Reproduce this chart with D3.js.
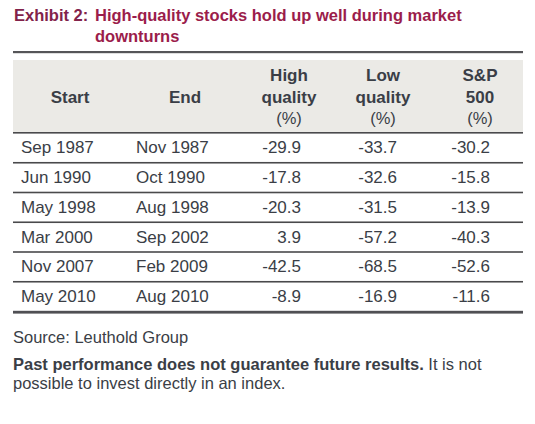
<!DOCTYPE html>
<html><head><meta charset="utf-8">
<script src="https://cdn.jsdelivr.net/npm/d3@7"></script>
<style>
html,body{margin:0;padding:0;background:#fff;}
svg{display:block;}
</style></head>
<body>
<script>
const titleLabel = "Exhibit 2:";
const titleLines = ["High-quality stocks hold up well during market", "downturns"];
const headers = [["Start"], ["End"], ["High", "quality", "(%)"], ["Low", "quality", "(%)"], ["S&P", "500", "(%)"]];
const starts = ["Sep 1987", "Jun 1990", "May 1998", "Mar 2000", "Nov 2007", "May 2010"];
const ends = ["Nov 1987", "Oct 1990", "Aug 1998", "Sep 2002", "Feb 2009", "Aug 2010"];
const highQuality = [-29.9, -17.8, -20.3, 3.9, -42.5, -8.9];
const lowQuality = [-33.7, -32.6, -31.5, -57.2, -68.5, -16.9];
const sp500 = [-30.2, -15.8, -13.9, -40.3, -52.6, -11.6];
const sourceText = "Source: Leuthold Group";
const noteBold = "Past performance does not guarantee future results.";
const noteRest = [" It is not", "possible to invest directly in an index."];

const W = 535, H = 424;
const svg = d3.select("body").append("svg").attr("width", W).attr("height", H);
const font = "'Liberation Sans', Arial, sans-serif";
const textCol = "#3a3e46";
const ruleCol = "#4a4a4c";

const left = 13, right = 523;

// Title
const tcol1 = "#82224a", tcol2 = "#9b1d4b";
svg.append("text").attr("x", 14).attr("y", 20.5)
  .attr("font-family", font).attr("font-weight", "bold").attr("font-size", 16.5)
  .attr("fill", tcol1).text(titleLabel);
titleLines.forEach((t, i) => {
  svg.append("text").attr("x", 95).attr("y", 20.5 + i * 21)
    .attr("font-family", font).attr("font-weight", "bold").attr("font-size", 16.5)
    .attr("fill", tcol2).text(t);
});

// top rule
svg.append("rect").attr("x", left).attr("y", 51).attr("width", right - left).attr("height", 2.2).attr("fill", "#555558");

// header background
svg.append("rect").attr("x", left).attr("y", 60).attr("width", right - left).attr("height", 72).attr("fill", "#ebeae6");

// columns
const colCenters = [70, 185, 289, 383, 480];
const numRight = [null, null, 301, 397, 490];

// header text
headers.forEach((lines, ci) => {
  const n = lines.length;
  const baseY = n === 1 ? 103 : 81;
  lines.forEach((l, li) => {
    const isPct = l === "(%)";
    svg.append("text").attr("x", colCenters[ci]).attr("y", n === 1 ? baseY : [81, 103, 124][li])
      .attr("text-anchor", "middle").attr("font-family", font)
      .attr("font-weight", isPct ? "normal" : "bold")
      .attr("font-size", isPct ? 16.5 : 17).attr("fill", textCol).text(l);
  });
});

// header rule
svg.append("rect").attr("x", left).attr("y", 132).attr("width", right - left).attr("height", 1.6).attr("fill", ruleCol);

// rows
const y = d3.scaleBand().domain(d3.range(starts.length)).range([133, 311.5]).padding(0);
const rows = svg.append("g").selectAll("g").data(starts.map((s, i) => ({
  start: s, end: ends[i], hq: highQuality[i], lq: lowQuality[i], sp: sp500[i], i
}))).join("g").attr("transform", d => `translate(0,${y(d.i)})`);

const fmt = v => v.toFixed(1);
rows.append("text").attr("x", 21).attr("y", 20.3).attr("font-family", font).attr("font-size", 17).attr("fill", textCol).text(d => d.start);
rows.append("text").attr("x", 136).attr("y", 20.3).attr("font-family", font).attr("font-size", 17).attr("fill", textCol).text(d => d.end);
[["hq", 2], ["lq", 3], ["sp", 4]].forEach(([k, ci]) => {
  rows.append("text").attr("x", numRight[ci]).attr("y", 20.3).attr("text-anchor", "end")
    .attr("font-family", font).attr("font-size", 17).attr("fill", textCol).text(d => fmt(d[k]));
});
// row separators
rows.filter(d => d.i < starts.length - 1).append("rect")
  .attr("x", left).attr("y", y.bandwidth() - 0.8).attr("width", right - left).attr("height", 1.6).attr("fill", ruleCol);

// bottom thick rule
svg.append("rect").attr("x", left).attr("y", 310.8).attr("width", right - left).attr("height", 2.8).attr("fill", "#505054");

// footer
svg.append("text").attr("x", 13).attr("y", 342.5).attr("font-family", font).attr("font-size", 16.5).attr("fill", textCol).text(sourceText);
const note = svg.append("text").attr("x", 13).attr("y", 370).attr("font-family", font).attr("font-size", 16.5).attr("fill", textCol);
note.append("tspan").attr("font-weight", "bold").text(noteBold);
note.append("tspan").text(noteRest[0]);
svg.append("text").attr("x", 13).attr("y", 388.5).attr("font-family", font).attr("font-size", 16.5).attr("fill", textCol).text(noteRest[1]);
</script>
</body></html>
